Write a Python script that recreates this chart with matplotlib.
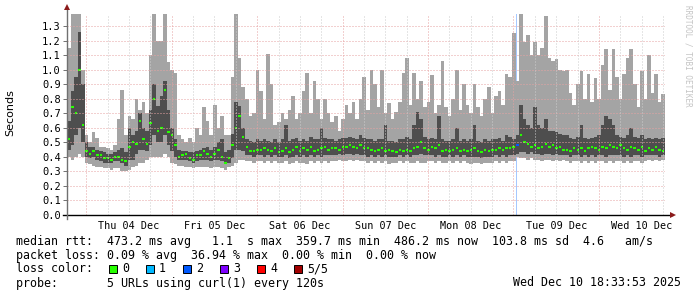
import numpy as np
import matplotlib
matplotlib.use('Agg')
import matplotlib.pyplot as plt
from matplotlib.patches import Rectangle

# hourly values in seconds, first hour starts Wed 03 Dec 18:33:53
rtt_min = [
    0.40, 0.38, 0.40, 0.42, 0.40, 0.36, 0.35, 0.34, 0.33, 0.33,
    0.32, 0.32, 0.31, 0.32, 0.32, 0.30, 0.30, 0.31, 0.33, 0.34,
    0.36, 0.36, 0.38, 0.40, 0.40, 0.40, 0.40, 0.42, 0.40, 0.36,
    0.35, 0.34, 0.34, 0.33, 0.33, 0.32, 0.33, 0.33, 0.33, 0.33,
    0.32, 0.33, 0.33, 0.32, 0.31, 0.33, 0.34, 0.36, 0.38, 0.38,
    0.37, 0.37, 0.36, 0.37, 0.37, 0.36, 0.37, 0.36, 0.37, 0.36,
    0.36, 0.37, 0.35, 0.36, 0.37, 0.36, 0.36, 0.35, 0.37, 0.36,
    0.37, 0.36, 0.37, 0.36, 0.37, 0.37, 0.38, 0.37, 0.37, 0.38,
    0.37, 0.38, 0.37, 0.37, 0.36, 0.37, 0.36, 0.37, 0.36, 0.37,
    0.35, 0.36, 0.36, 0.37, 0.36, 0.37, 0.36, 0.36, 0.37, 0.36,
    0.36, 0.37, 0.37, 0.36, 0.37, 0.36, 0.36, 0.37, 0.36, 0.37,
    0.36, 0.37, 0.36, 0.35, 0.36, 0.36, 0.35, 0.36, 0.36, 0.36,
    0.37, 0.36, 0.37, 0.36, 0.37, 0.37, 0.40, 0.39, 0.39, 0.38,
    0.39, 0.38, 0.38, 0.37, 0.38, 0.38, 0.37, 0.38, 0.37, 0.38,
    0.37, 0.36, 0.37, 0.37, 0.36, 0.37, 0.36, 0.37, 0.36, 0.37,
    0.37, 0.36, 0.37, 0.36, 0.37, 0.37, 0.36, 0.37, 0.36, 0.37,
    0.37, 0.36, 0.37, 0.38, 0.37, 0.38, 0.37, 0.38,
]
rtt_q1 = [
    0.45, 0.48, 0.55, 0.60, 0.50, 0.40, 0.39, 0.40, 0.38, 0.37,
    0.36, 0.36, 0.36, 0.37, 0.37, 0.36, 0.34, 0.38, 0.38, 0.42,
    0.45, 0.45, 0.44, 0.48, 0.55, 0.50, 0.50, 0.55, 0.48, 0.44,
    0.40, 0.38, 0.38, 0.38, 0.37, 0.36, 0.37, 0.38, 0.38, 0.38,
    0.37, 0.38, 0.38, 0.37, 0.35, 0.36, 0.39, 0.45, 0.45, 0.44,
    0.41, 0.41, 0.40, 0.41, 0.41, 0.40, 0.41, 0.40, 0.41, 0.40,
    0.40, 0.41, 0.39, 0.40, 0.41, 0.40, 0.41, 0.40, 0.41, 0.40,
    0.41, 0.40, 0.41, 0.41, 0.41, 0.41, 0.42, 0.41, 0.42, 0.42,
    0.41, 0.42, 0.41, 0.41, 0.40, 0.41, 0.40, 0.41, 0.40, 0.41,
    0.40, 0.40, 0.40, 0.41, 0.40, 0.41, 0.40, 0.41, 0.41, 0.42,
    0.41, 0.41, 0.41, 0.40, 0.41, 0.40, 0.40, 0.41, 0.40, 0.41,
    0.40, 0.41, 0.40, 0.40, 0.40, 0.40, 0.39, 0.40, 0.40, 0.40,
    0.41, 0.40, 0.41, 0.40, 0.41, 0.41, 0.42, 0.43, 0.43, 0.42,
    0.43, 0.42, 0.42, 0.41, 0.42, 0.42, 0.41, 0.42, 0.41, 0.41,
    0.41, 0.40, 0.41, 0.41, 0.40, 0.41, 0.40, 0.41, 0.40, 0.41,
    0.41, 0.40, 0.41, 0.41, 0.41, 0.41, 0.40, 0.41, 0.40, 0.41,
    0.41, 0.40, 0.41, 0.41, 0.41, 0.41, 0.40, 0.41,
]
rtt_median = [
    0.52, 0.74, 0.70, 1.00, 0.62, 0.44, 0.42, 0.44, 0.41, 0.41,
    0.39, 0.39, 0.38, 0.40, 0.40, 0.38, 0.37, 0.47, 0.50, 0.49,
    0.65, 0.52, 0.49, 0.63, 0.80, 0.58, 0.60, 0.86, 0.57, 0.55,
    0.48, 0.40, 0.41, 0.42, 0.39, 0.38, 0.41, 0.41, 0.44, 0.42,
    0.40, 0.42, 0.45, 0.40, 0.36, 0.39, 0.48, 0.60, 0.68, 0.54,
    0.47, 0.44, 0.44, 0.45, 0.45, 0.46, 0.45, 0.44, 0.46, 0.43,
    0.44, 0.46, 0.43, 0.45, 0.47, 0.44, 0.46, 0.45, 0.47, 0.44,
    0.45, 0.46, 0.47, 0.45, 0.46, 0.46, 0.45, 0.47, 0.47, 0.48,
    0.47, 0.46, 0.48, 0.46, 0.46, 0.45, 0.44, 0.45, 0.46, 0.44,
    0.45, 0.44, 0.43, 0.45, 0.44, 0.45, 0.44, 0.46, 0.47, 0.50,
    0.46, 0.45, 0.47, 0.46, 0.48, 0.44, 0.45, 0.44, 0.45, 0.46,
    0.44, 0.45, 0.44, 0.45, 0.46, 0.44, 0.43, 0.45, 0.44, 0.45,
    0.45, 0.46, 0.45, 0.46, 0.46, 0.47, 0.48, 0.55, 0.50, 0.49,
    0.47, 0.48, 0.46, 0.47, 0.49, 0.47, 0.48, 0.46, 0.47, 0.45,
    0.45, 0.44, 0.46, 0.45, 0.46, 0.44, 0.46, 0.47, 0.46, 0.45,
    0.47, 0.46, 0.48, 0.47, 0.46, 0.48, 0.46, 0.45, 0.47, 0.46,
    0.45, 0.47, 0.44, 0.46, 0.45, 0.47, 0.45, 0.44,
]
rtt_q3 = [
    0.65, 0.85, 0.95, 1.26, 0.90, 0.50, 0.47, 0.47, 0.45, 0.44,
    0.43, 0.42, 0.42, 0.43, 0.45, 0.46, 0.43, 0.60, 0.55, 0.58,
    0.70, 0.60, 0.58, 0.72, 0.90, 0.75, 0.82, 0.92, 0.72, 0.60,
    0.52, 0.45, 0.44, 0.44, 0.43, 0.43, 0.44, 0.45, 0.46, 0.47,
    0.45, 0.47, 0.50, 0.52, 0.43, 0.45, 0.56, 0.78, 0.75, 0.60,
    0.52, 0.51, 0.50, 0.52, 0.51, 0.52, 0.51, 0.50, 0.52, 0.50,
    0.52, 0.62, 0.51, 0.52, 0.53, 0.51, 0.52, 0.51, 0.54, 0.52,
    0.52, 0.60, 0.53, 0.52, 0.52, 0.51, 0.52, 0.53, 0.53, 0.54,
    0.53, 0.52, 0.55, 0.53, 0.52, 0.52, 0.51, 0.52, 0.52, 0.62,
    0.51, 0.51, 0.50, 0.52, 0.52, 0.54, 0.52, 0.62, 0.71, 0.66,
    0.54, 0.52, 0.53, 0.52, 0.68, 0.52, 0.51, 0.51, 0.52, 0.60,
    0.51, 0.52, 0.51, 0.52, 0.62, 0.51, 0.50, 0.52, 0.51, 0.52,
    0.52, 0.53, 0.51, 0.55, 0.54, 0.52, 0.55, 0.76, 0.66, 0.62,
    0.60, 0.74, 0.62, 0.60, 0.66, 0.58, 0.58, 0.57, 0.56, 0.55,
    0.55, 0.53, 0.52, 0.54, 0.62, 0.53, 0.52, 0.53, 0.54, 0.55,
    0.62, 0.68, 0.66, 0.62, 0.55, 0.54, 0.53, 0.55, 0.60, 0.54,
    0.53, 0.55, 0.52, 0.53, 0.52, 0.53, 0.52, 0.53,
]
rtt_max = [
    1.15, 1.38, 1.38, 1.38, 1.00, 0.55, 0.50, 0.57, 0.53, 0.47,
    0.47, 0.46, 0.45, 0.48, 0.66, 0.86, 0.55, 0.68, 0.66, 0.80,
    0.72, 0.78, 0.70, 1.10, 1.38, 1.20, 1.20, 1.38, 1.05, 1.00,
    0.98, 0.55, 0.52, 0.50, 0.53, 0.50, 0.60, 0.55, 0.74, 0.65,
    0.55, 0.76, 0.60, 0.68, 0.55, 0.55, 0.95, 1.38, 1.08, 0.88,
    0.80, 0.68, 0.70, 1.00, 0.85, 0.66, 1.11, 0.90, 0.62, 0.64,
    0.70, 0.66, 0.72, 0.82, 0.66, 0.70, 0.85, 0.98, 0.70, 0.92,
    0.80, 0.66, 0.80, 0.70, 0.64, 0.68, 0.58, 0.66, 0.76, 0.70,
    0.78, 0.66, 0.80, 0.95, 0.72, 1.00, 0.90, 0.74, 1.00, 0.70,
    0.77, 0.66, 0.71, 0.78, 0.98, 1.08, 0.76, 0.98, 0.80, 0.92,
    0.74, 0.78, 0.96, 0.70, 0.76, 1.06, 0.74, 0.68, 0.80, 1.00,
    0.72, 0.90, 0.76, 0.70, 0.90, 0.74, 0.68, 0.80, 0.88, 0.70,
    0.82, 0.85, 0.76, 0.97, 0.95, 1.25, 0.92, 1.38, 1.19, 1.24,
    1.10, 1.19, 1.10, 1.15, 1.37, 1.08, 1.06, 1.07, 1.00, 0.99,
    1.00, 0.84, 0.76, 0.90, 0.99, 0.80, 0.97, 0.78, 0.94, 0.80,
    1.03, 1.14, 0.86, 1.14, 0.95, 0.80, 0.97, 1.08, 1.14, 0.90,
    0.74, 0.99, 0.80, 1.10, 0.84, 0.97, 0.78, 0.83,
]
loss_hours = [126]

day_labels = ['Thu 04 Dec', 'Fri 05 Dec', 'Sat 06 Dec', 'Sun 07 Dec',
              'Mon 08 Dec', 'Tue 09 Dec', 'Wed 10 Dec']
first_midnight = 5.435  # hours from graph start to Thu 04 Dec 00:00
y_ticks = [0.0, 0.1, 0.2, 0.3, 0.4, 0.5, 0.6, 0.7, 0.8, 0.9, 1.0, 1.1, 1.2, 1.3]

legend_rtt = 'median rtt:  473.2 ms avg   1.1  s max  359.7 ms min  486.2 ms now  103.8 ms sd  4.6   am/s'
legend_loss = 'packet loss: 0.09 % avg  36.94 % max  0.00 % min  0.00 % now'
legend_probe = 'probe:       5 URLs using curl(1) every 120s'
legend_date = 'Wed Dec 10 18:33:53 2025'
loss_labels = ['0', '1', '2', '3', '4', '5/5']
loss_colors = ['#26ff00', '#00b8ff', '#0059ff', '#7e00ff', '#ff0000', '#a10000']

W, H = 697, 297
MONO = 'DejaVu Sans Mono'


def fx(x):
    return x / W


def fy(y):
    return 1 - y / H


fig = plt.figure(figsize=(W / 100, H / 100), dpi=100)
fig.patch.set_facecolor('white')
ax = fig.add_axes([fx(67), fy(215), 598 / W, 200.6 / H])
ax.set_xlim(0, 168)
ax.set_ylim(0, 1.38)
for s in ax.spines.values():
    s.set_visible(False)

hours = np.arange(len(rtt_median))
edges = np.append(hours, len(hours))


def ext(v):
    return np.append(v, v[-1])


# loss background
for h in loss_hours:
    ax.axvspan(h, h + 0.55, color='#a6c8ff', lw=0, zorder=1)

# smoke
ax.fill_between(edges, ext(rtt_min), ext(rtt_max), step='post',
                color='#a4a4a4', lw=0, zorder=2)
ax.fill_between(edges, ext(rtt_q1), ext(rtt_q3), step='post',
                color='#4e4e4e', lw=0, zorder=3)

# median
med_colors = ['#0059ff' if h in loss_hours else '#26ff00' for h in hours]
ax.hlines(rtt_median, hours + 0.15, hours + 0.85, colors=med_colors,
          linewidth=1.5, zorder=5)

# grid on top, rrdtool style
for v in y_ticks[1:]:
    ax.axhline(v, color='#e6a3a3', lw=0.72, dashes=(1, 2), zorder=6)
k = -1
while first_midnight + 6 * k < 168:
    x = first_midnight + 6 * k
    if x > 0:
        if k % 4 == 0:
            ax.axvline(x, color='#e6a3a3', lw=0.72, dashes=(1, 2), zorder=6)
        else:
            ax.axvline(x, color='#cccccc', lw=0.72, dashes=(1, 2), zorder=6)
    k += 1

# axes lines with arrows
ax.plot([-0.007, 1.012], [0, 0], color='black', lw=1, transform=ax.transAxes,
        clip_on=False, zorder=7)
ax.plot([0, 0], [-0.02, 1.03], color='#707070', lw=1, transform=ax.transAxes,
        clip_on=False, zorder=7)
ax.plot([1.014], [0], marker='>', ms=5, color='#8b1a1a', mew=0,
        transform=ax.transAxes, clip_on=False, zorder=8)
ax.plot([0], [1.035], marker='^', ms=5, color='#8b1a1a', mew=0,
        transform=ax.transAxes, clip_on=False, zorder=8)

ax.set_yticks(y_ticks)
ax.set_yticklabels([f'{v:.1f}' for v in y_ticks], family=MONO, fontsize=7.5)
ax.tick_params(axis='y', length=3, width=0.7, color='#707070', pad=1.5)
ax.set_xticks([first_midnight + 12 + 24 * i for i in range(len(day_labels))])
ax.set_xticklabels(day_labels, family=MONO, fontsize=7.3)
ax.tick_params(axis='x', length=0, pad=4)

fig.text(fx(10), fy(113), 'Seconds', rotation=90, ha='center', va='center',
         fontsize=8, family='DejaVu Sans')
fig.text(fx(688), fy(5), 'RRDTOOL / TOBI OETIKER', rotation=270, ha='center',
         va='top', fontsize=5.5, color='#c4c4c4', family=MONO)

# legend
fs = 8.35
fig.text(fx(16), fy(241), legend_rtt, ha='left', va='center', fontsize=fs, family=MONO)
fig.text(fx(16), fy(256), legend_loss, ha='left', va='center', fontsize=fs, family=MONO)
fig.text(fx(16), fy(269), 'loss color:', ha='left', va='center', fontsize=fs, family=MONO)
for i, (lab, col) in enumerate(zip(loss_labels, loss_colors)):
    bx = 109 + 37 * i
    fig.patches.append(Rectangle((fx(bx), fy(273)), 8 / W, 8 / H, facecolor=col,
                                 edgecolor='black', lw=0.7, transform=fig.transFigure))
    fig.text(fx(bx + 13), fy(269), lab, ha='left', va='center', fontsize=fs, family=MONO)
fig.text(fx(16), fy(283), legend_probe, ha='left', va='center', fontsize=fs, family=MONO)
fig.text(fx(681), fy(283), legend_date, ha='right', va='center', fontsize=fs, family=MONO)

fig.savefig('out.png', dpi=100)
